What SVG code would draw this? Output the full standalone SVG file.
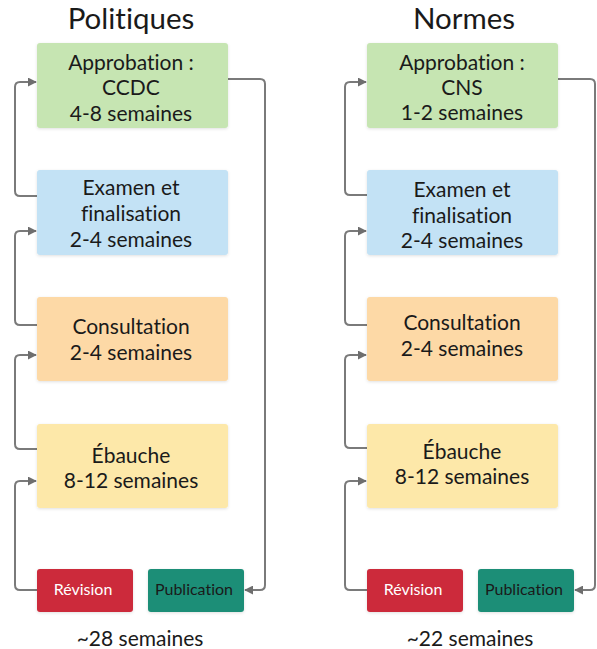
<svg xmlns="http://www.w3.org/2000/svg" width="597" height="649" viewBox="0 0 597 649">
<defs>
<filter id="sh" x="-10%" y="-10%" width="120%" height="130%">
<feDropShadow dx="0" dy="1" stdDeviation="1.5" flood-color="#000" flood-opacity="0.12"/>
</filter>
<marker id="ah" viewBox="0 0 10 10" refX="9" refY="5" markerWidth="9" markerHeight="9" markerUnits="userSpaceOnUse" orient="auto">
<path d="M0,0 L10,5 L0,10 z" fill="#6e6e6e"/>
</marker>
<style>
.t{font-family:Lato,"Noto Sans",sans-serif;fill:#1a1a1a;text-anchor:middle;font-variant-ligatures:none}
.title{font-size:29.5px}
.lbl{font-size:21px}
.sm{font-size:16px}
.box{filter:url(#sh)}
.c{fill:none;stroke:#7a7a7a;stroke-width:2;stroke-linejoin:round;marker-end:url(#ah)}
</style>
</defs>
<rect width="597" height="649" fill="#fff"/>
<text class="t title" x="131" y="29">Politiques</text>
<text class="t title" x="464" y="29">Normes</text>

<g id="connectors">
<path class="c" d="M37,196 H20 Q15,196 15,191 V87 Q15,82 20,82 H36"/>
<path class="c" d="M37,325 H20 Q15,325 15,320 V236 Q15,231 20,231 H36"/>
<path class="c" d="M37,449 H20 Q15,449 15,444 V360 Q15,355 20,355 H36"/>
<path class="c" d="M37,590 H20 Q15,590 15,585 V486 Q15,481 20,481 H36"/>
<path class="c" d="M228,79 H260 Q265,79 265,84 V585 Q265,590 260,590 H245"/>
<path class="c" d="M367,195 H350 Q345,195 345,190 V87 Q345,82 350,82 H366"/>
<path class="c" d="M367,325 H350 Q345,325 345,320 V236 Q345,231 350,231 H366"/>
<path class="c" d="M367,448 H350 Q345,448 345,443 V360 Q345,355 350,355 H366"/>
<path class="c" d="M367,590 H350 Q345,590 345,585 V486 Q345,481 350,481 H366"/>
<path class="c" d="M558,79 H590 Q595,79 595,84 V585 Q595,590 590,590 H575"/>
</g>

<g id="p-approbation">
<rect class="box" x="37" y="43" width="191" height="85" rx="3" fill="#c6e5b2"/>
<text class="t lbl" x="131" y="70">Approbation :</text>
<text class="t lbl" x="131" y="95">CCDC</text>
<text class="t lbl" x="131" y="121">4-8 semaines</text>
</g>
<g id="p-examen">
<rect class="box" x="37" y="170" width="191" height="85" rx="3" fill="#c3e2f5"/>
<text class="t lbl" x="131" y="195">Examen et</text>
<text class="t lbl" x="131" y="221">finalisation</text>
<text class="t lbl" x="131" y="247">2-4 semaines</text>
</g>
<g id="p-consultation">
<rect class="box" x="37" y="297" width="191" height="84" rx="3" fill="#fdd9a6"/>
<text class="t lbl" x="131" y="334">Consultation</text>
<text class="t lbl" x="131" y="360">2-4 semaines</text>
</g>
<g id="p-ebauche">
<rect class="box" x="37" y="424" width="191" height="84" rx="3" fill="#fde8a9"/>
<text class="t lbl" x="131" y="463">Ébauche</text>
<text class="t lbl" x="131" y="488">8-12 semaines</text>
</g>
<g id="p-revision">
<rect class="box" x="37" y="569" width="96" height="43" rx="3" fill="#cc2a3a"/>
<text class="t sm" x="83" y="595" style="fill:#fff">Révision</text>
</g>
<g id="p-publication">
<rect class="box" x="148" y="569" width="96" height="43" rx="3" fill="#1b8e77"/>
<text class="t sm" x="194" y="595">Publication</text>
</g>
<text class="t lbl" x="140" y="646">~28 semaines</text>

<g id="n-approbation">
<rect class="box" x="367" y="43" width="191" height="85" rx="3" fill="#c6e5b2"/>
<text class="t lbl" x="462" y="70">Approbation :</text>
<text class="t lbl" x="462" y="95">CNS</text>
<text class="t lbl" x="462" y="120">1-2 semaines</text>
</g>
<g id="n-examen">
<rect class="box" x="367" y="170" width="191" height="85" rx="3" fill="#c3e2f5"/>
<text class="t lbl" x="462" y="197">Examen et</text>
<text class="t lbl" x="462" y="223">finalisation</text>
<text class="t lbl" x="462" y="248">2-4 semaines</text>
</g>
<g id="n-consultation">
<rect class="box" x="367" y="297" width="191" height="84" rx="3" fill="#fdd9a6"/>
<text class="t lbl" x="462" y="330">Consultation</text>
<text class="t lbl" x="462" y="356">2-4 semaines</text>
</g>
<g id="n-ebauche">
<rect class="box" x="367" y="424" width="191" height="84" rx="3" fill="#fde8a9"/>
<text class="t lbl" x="462" y="459">Ébauche</text>
<text class="t lbl" x="462" y="484">8-12 semaines</text>
</g>
<g id="n-revision">
<rect class="box" x="367" y="569" width="96" height="43" rx="3" fill="#cc2a3a"/>
<text class="t sm" x="413" y="595" style="fill:#fff">Révision</text>
</g>
<g id="n-publication">
<rect class="box" x="478" y="569" width="96" height="43" rx="3" fill="#1b8e77"/>
<text class="t sm" x="524" y="595">Publication</text>
</g>
<text class="t lbl" x="470" y="646">~22 semaines</text>
</svg>
